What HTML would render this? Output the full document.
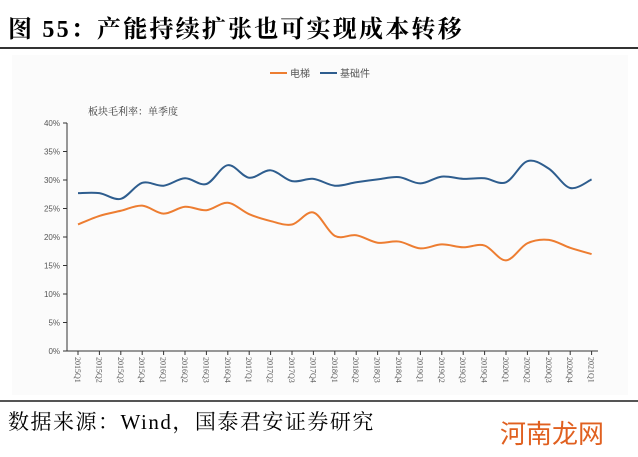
<!DOCTYPE html>
<html><head><meta charset="utf-8"><style>
body{margin:0;width:638px;height:457px;background:#fff;overflow:hidden;font-family:"Liberation Serif","Noto Serif CJK SC",serif}
.t{position:absolute;left:8px;top:9px;font-size:24px;font-weight:bold;letter-spacing:2.2px}
.l1{position:absolute;left:0;top:47px;width:638px;height:2px;background:#333}
.l2{position:absolute;left:0;top:400px;width:638px;height:2px;background:#555}
.s{position:absolute;left:8px;top:406px;font-size:21px;letter-spacing:1.5px}
.w{position:absolute;left:500px;top:414px;font-size:26px;color:#e06020;font-family:"Noto Sans CJK SC",sans-serif}
</style></head><body>
<div class="t">图 55：产能持续扩张也可实现成本转移</div>
<div class="l1"></div>
<svg style="position:absolute;left:0;top:0" width="638" height="457" id="s">
<rect x="12" y="55" width="616" height="340" fill="#fbfbfb"/>
<line x1="270" y1="73" x2="287" y2="73" stroke="#ed7d31" stroke-width="2"/>
<text x="290" y="77" font-size="10" fill="#555" font-family="Noto Sans CJK SC,sans-serif">电梯</text>
<line x1="320" y1="73" x2="337" y2="73" stroke="#2e5d8e" stroke-width="2"/>
<text x="340" y="77" font-size="10" fill="#555" font-family="Noto Sans CJK SC,sans-serif">基础件</text>
<text x="88" y="115" font-size="10" fill="#333" font-family="Noto Serif CJK SC,serif">板块毛利率：单季度</text>
<line x1="67" y1="123" x2="67" y2="351" stroke="#333"/>
<line x1="67" y1="351" x2="598" y2="351" stroke="#333"/>
</svg>
<div class="l2"></div>
<div class="s">数据来源：Wind，国泰君安证券研究</div>
<div class="w">河南龙网</div>
<script>
var s=document.getElementById('s'),ns='http://www.w3.org/2000/svg';
function el(t,a,txt){var e=document.createElementNS(ns,t);for(var k in a)e.setAttribute(k,a[k]);if(txt)e.textContent=txt;s.appendChild(e);return e}
function Y(v){return 351-v*5.7}
for(var i=0;i<=8;i++){var y=351-i*28.5;el('line',{x1:63,y1:y,x2:67,y2:y,stroke:'#333'});el('text',{x:60,y:y+3,'font-size':8,fill:'#555','text-anchor':'end','font-family':'Liberation Sans'},i*5+'%')}
var labs=[];for(var yr=2015;yr<=2021;yr++)for(var q=1;q<=4;q++)labs.push(yr+'Q'+q);labs=labs.slice(0,25);
function X(i){return 78+i*21.4}
for(var i=0;i<25;i++){var x=X(i);el('line',{x1:x,y1:351,x2:x,y2:355,stroke:'#333'});el('text',{x:0,y:0,'font-size':8,fill:'#555','font-family':'Liberation Serif',transform:'translate('+(x-3)+',357) rotate(90)'},labs[i])}
var b=[27.7,27.7,26.7,29.5,29.0,30.3,29.3,32.6,30.4,31.7,29.8,30.2,29.0,29.6,30.1,30.5,29.4,30.6,30.2,30.3,29.6,33.3,32.0,28.6,30.1];
var o=[22.2,23.7,24.6,25.5,24.1,25.3,24.7,26.0,24.0,22.8,22.2,24.3,20.2,20.3,19.0,19.2,18.0,18.7,18.2,18.5,15.9,18.9,19.5,18.1,17.0];
function path(d){var p=d.map(function(v,i){return[X(i),Y(v)]});var s='M'+p[0];for(var i=0;i<p.length-1;i++){var a=p[i-1]||p[i],b=p[i],c=p[i+1],e=p[i+2]||c;s+='C'+(b[0]+(c[0]-a[0])/6)+','+(b[1]+(c[1]-a[1])/6)+' '+(c[0]-(e[0]-b[0])/6)+','+(c[1]-(e[1]-b[1])/6)+' '+c}return s}
el('path',{d:path(o),fill:'none',stroke:'#ed7d31','stroke-width':2});
el('path',{d:path(b),fill:'none',stroke:'#2e5d8e','stroke-width':2});
</script>
</body></html>
